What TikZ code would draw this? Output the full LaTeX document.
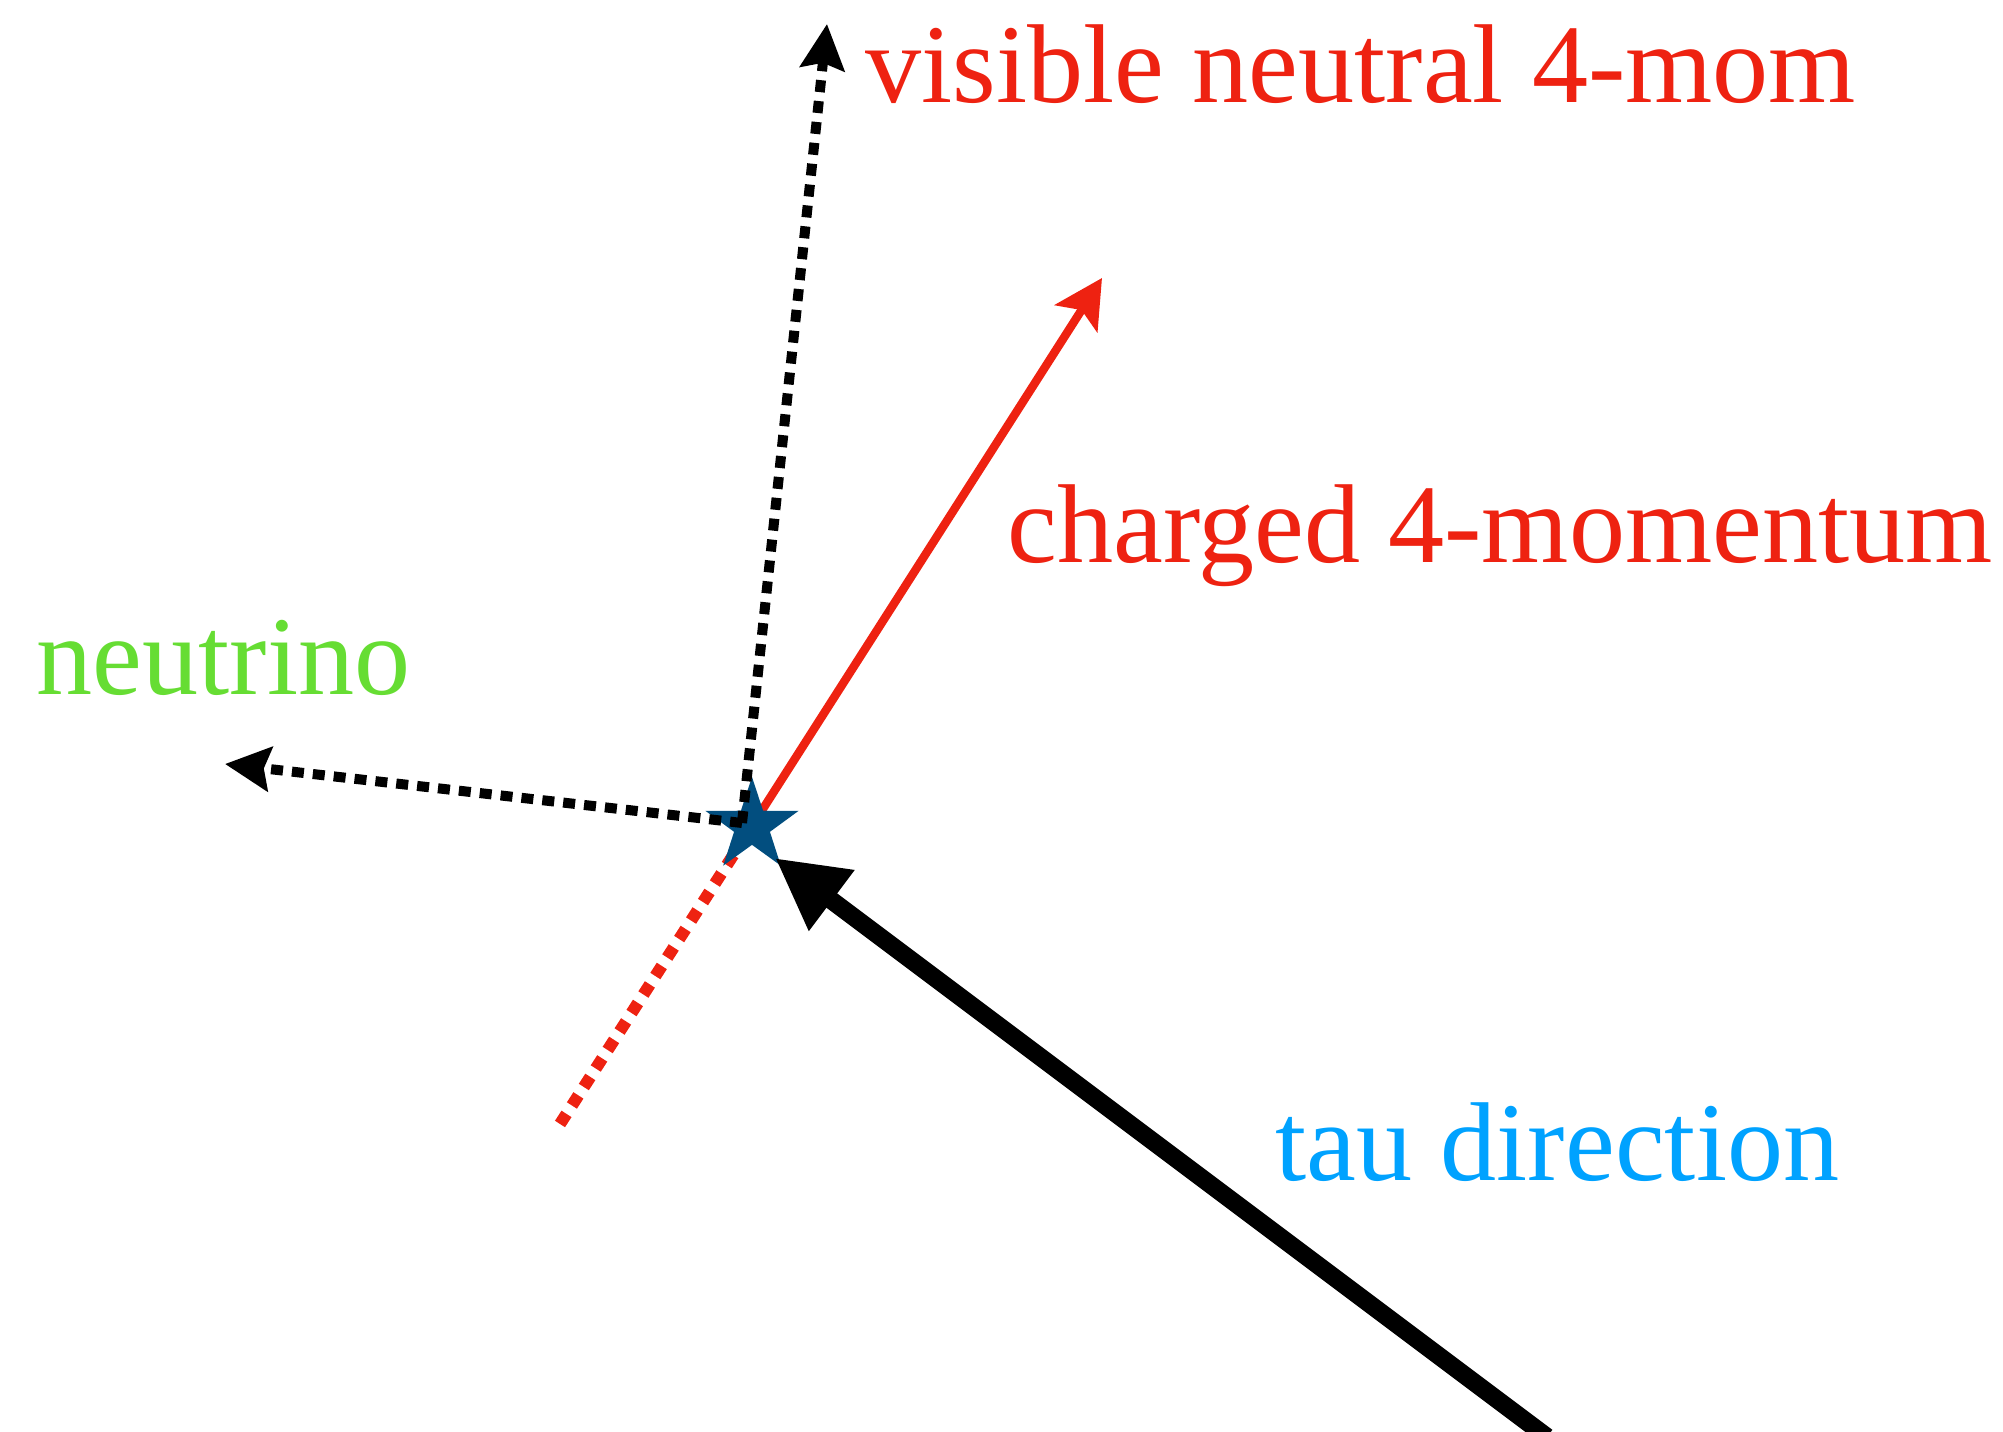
\documentclass[tikz,border=0pt]{standalone}
\usepackage{fontspec}
\setmainfont{Liberation Serif}
\usetikzlibrary{arrows.meta,shapes.geometric}
\definecolor{chargec}{HTML}{EE2211}
\definecolor{nuc}{HTML}{66DD33}
\definecolor{tauc}{HTML}{00A2FF}
\definecolor{vtxc}{HTML}{024E7F}
\tikzset{
  charged/.style={draw=chargec, line width=2.4pt, -{Stealth[length=4.8mm,width=5mm,inset=1mm]}},
  chargedback/.style={draw=chargec, line width=3.4pt, dash pattern=on 1.2mm off 1mm},
  neutral/.style={draw=black, line width=2.85pt, dash pattern=on 1.2mm off 0.9mm, -{Stealth[length=4.5mm,width=4.4mm,inset=0.6mm]}},
  taupath/.style={draw=black, line width=5.1pt, -{Triangle[length=7.1mm,width=7.1mm]}},
  vertex/.style={star, star points=5, star point ratio=2.6, minimum size=9.8mm, inner sep=0pt, fill=vtxc},
  lbl/.style={anchor=base west, inner sep=0pt, font=\fontsize{31.9}{36}\selectfont},
}

\begin{document}
\begin{tikzpicture}
\useasboundingbox (0,0) rectangle (20.03,14.32);
\coordinate (vx) at (7.42,6.09);
\coordinate (vistip) at (8.27,14.08);
\coordinate (nutip) at (2.25,6.68);
\coordinate (chtip) at (11.02,11.54);
\coordinate (chtail) at (5.60,3.08);
\coordinate (tautail) at (15.47,-0.05);
\coordinate (tautip) at (7.75,5.74);
% red lines go under the star
\draw[chargedback] (chtail) -- (7.52,6.06);
\draw[charged] (7.52,6.06) -- (chtip);
\node[vertex] (vtx) at (7.52,6.06) {};
\draw[neutral] (vx) -- (vistip);
\draw[neutral] (vx) -- (nutip);
\draw[taupath] (tautail) -- (tautip);
% labels
\node[lbl, text=chargec] (vislbl) at (8.65,13.29) {visible neutral 4-mom};
\node[lbl, text=chargec] (chlbl) at (10.07,8.69) {charged 4-momentum};
\node[lbl, text=nuc] (nulbl) at (0.36,7.37) {neutrino};
\node[lbl, text=tauc] (taulbl) at (12.75,2.51) {tau direction};
\end{tikzpicture}
\end{document}
